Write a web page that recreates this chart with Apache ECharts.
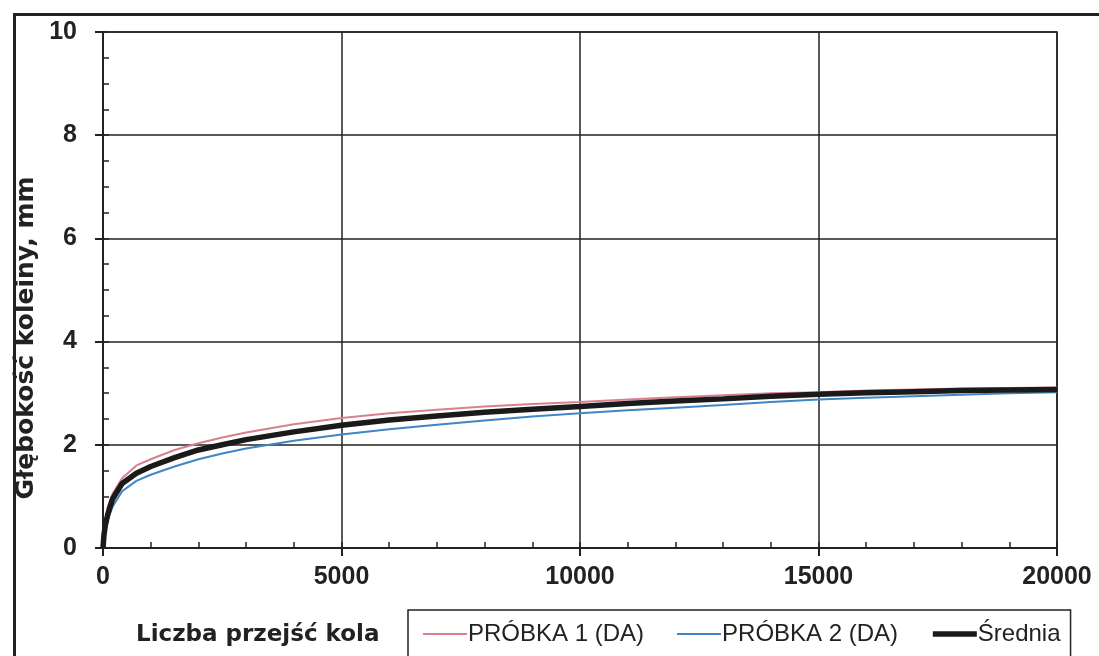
<!DOCTYPE html>
<html>
<head>
<meta charset="utf-8">
<script src="https://cdn.jsdelivr.net/npm/echarts@6/dist/echarts.min.js"></script>
<style>
html,body{margin:0;padding:0;background:#fff;}
#c{width:1099px;height:656px;}
</style>
</head>
<body>
<div id="c"></div>
<script>
// Data
const cycles = [0, 20, 50, 100, 200, 400, 700, 1000, 1500, 2000, 2500, 3000, 4000, 5000, 6000, 7000, 8000, 9000, 10000, 11000, 12000, 13000, 14000, 15000, 16000, 17000, 18000, 19000, 20000];
const probka1 = [0, 0.30, 0.55, 0.80, 1.05, 1.35, 1.60, 1.72, 1.90, 2.03, 2.14, 2.24, 2.40, 2.52, 2.61, 2.68, 2.74, 2.79, 2.83, 2.88, 2.92, 2.96, 3.00, 3.02, 3.05, 3.07, 3.09, 3.10, 3.11];
const probka2 = [0, 0.20, 0.38, 0.55, 0.80, 1.10, 1.30, 1.42, 1.58, 1.72, 1.83, 1.93, 2.08, 2.20, 2.30, 2.39, 2.47, 2.55, 2.61, 2.67, 2.72, 2.77, 2.83, 2.88, 2.91, 2.94, 2.97, 3.00, 3.02];
const srednia = [0, 0.25, 0.45, 0.65, 0.95, 1.25, 1.45, 1.58, 1.75, 1.90, 2.00, 2.10, 2.25, 2.38, 2.48, 2.56, 2.63, 2.69, 2.74, 2.80, 2.85, 2.89, 2.94, 2.98, 3.01, 3.03, 3.05, 3.06, 3.07];
const seriesNames = ['PRÓBKA 1 (DA)', 'PRÓBKA 2 (DA)', 'Średnia'];
const xTitle = 'Liczba przejść kola';
const yTitle = 'Głębokość koleiny, mm';

const pairs = ys => cycles.map((x, i) => [x, ys[i]]);

const chart = echarts.init(document.getElementById('c'), null, {renderer: 'canvas'});
const tickFont = {fontFamily: 'Liberation Sans, Arial, sans-serif', fontWeight: 'bold', fontSize: 25, color: '#222'};
const colors = ['#d9808f', '#3f86c6', '#1a1a1a'];
const widths = [2, 2, 5.5];

chart.setOption({
  animation: false,
  backgroundColor: '#fff',
  grid: {left: 103, top: 32, right: 42, bottom: 108, show: true, borderColor: '#222', borderWidth: 1.5, backgroundColor: 'transparent'},
  xAxis: [{
    type: 'value', min: 0, max: 20000, interval: 5000, position: 'bottom',
    axisLine: {show: true, onZero: false, lineStyle: {color: '#222', width: 2}},
    axisTick: {show: true, inside: false, length: 8, lineStyle: {color: '#222', width: 2}},
    axisLabel: Object.assign({margin: 17, formatter: v => String(v)}, tickFont),
    splitLine: {show: true, lineStyle: {color: '#222', width: 1.5}}
  }, {
    type: 'value', min: 0, max: 20000, interval: 1000, position: 'bottom',
    axisLine: {show: false},
    axisTick: {show: true, inside: true, length: 6, lineStyle: {color: '#222', width: 1.5}},
    axisLabel: {show: false},
    splitLine: {show: false}
  }],
  yAxis: [{
    type: 'value', min: 0, max: 10, interval: 2, position: 'left',
    axisLine: {show: true, onZero: false, lineStyle: {color: '#222', width: 2}},
    axisTick: {show: true, inside: false, length: 8, lineStyle: {color: '#222', width: 2}},
    axisLabel: Object.assign({margin: 26, formatter: v => String(v)}, tickFont),
    splitLine: {show: true, lineStyle: {color: '#222', width: 1.5}}
  }, {
    type: 'value', min: 0, max: 10, interval: 0.5, position: 'left',
    axisLine: {show: false},
    axisTick: {show: true, inside: true, length: 6, lineStyle: {color: '#222', width: 1.5}},
    axisLabel: {show: false},
    splitLine: {show: false}
  }],
  legend: {
    left: 408, top: 610, orient: 'horizontal',
    data: seriesNames.map((n, i) => ({name: n, lineStyle: {color: colors[i], width: widths[i]}})),
    itemWidth: 44, itemHeight: 14, itemGap: 32,
    padding: [12, 10, 40, 14],
    borderColor: '#222', borderWidth: 1.5,
    itemStyle: {opacity: 0},
    textStyle: {fontFamily: 'Liberation Sans, Arial, sans-serif', fontSize: 24, color: '#222', padding: [0, 0, 0, -4]}
  },
  graphic: [
    {type: 'rect', left: 12, top: 12, shape: {x: 0, y: 0, width: 1200, height: 800}, style: {fill: 'none', stroke: '#222', lineWidth: 3}, silent: true, z: 100},
    {type: 'text', left: 136, top: 624, style: {text: xTitle, fontFamily: 'DejaVu Sans', fontWeight: 'bold', fontSize: 23, fill: '#222'}},
    {type: 'text', x: 26, y: 338, rotation: Math.PI / 2, style: {text: yTitle, fontFamily: 'DejaVu Sans', fontWeight: 'bold', fontSize: 25, fill: '#222', textAlign: 'center', textVerticalAlign: 'middle'}}
  ],
  series: seriesNames.map((n, i) => ({
    name: n, type: 'line', xAxisIndex: 0, yAxisIndex: 0, symbol: 'none',
    data: pairs([probka1, probka2, srednia][i]),
    lineStyle: {color: colors[i], width: widths[i]}, itemStyle: {color: colors[i]}, z: i === 2 ? 3 : 2
  }))
});
</script>
</body>
</html>
